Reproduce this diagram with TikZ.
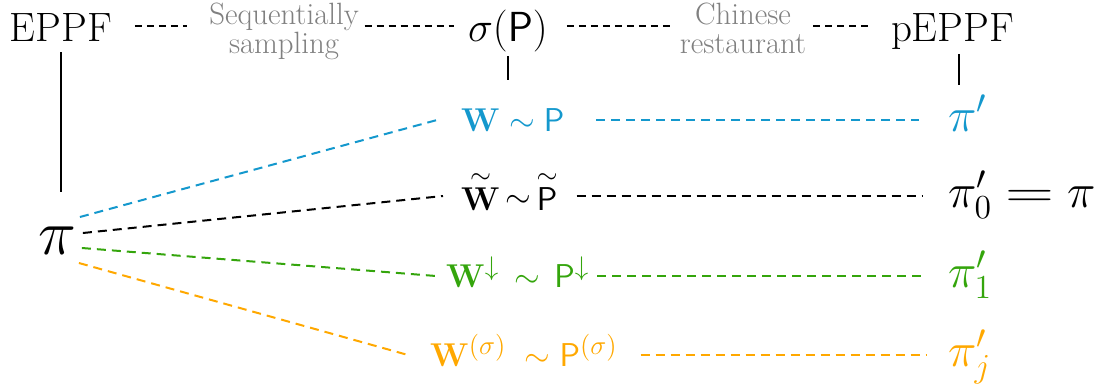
\RequirePackage{fix-cm}
\documentclass[tikz,border=0pt]{standalone}
\usepackage{graphicx}
\usetikzlibrary{calc}
\DeclareMathSizes{16.5}{16.5}{13.5}{11}
\definecolor{cblue}{RGB}{20,152,205}
\definecolor{cgreen}{RGB}{52,165,12}
\definecolor{corange}{RGB}{255,168,0}
\definecolor{cgray}{RGB}{128,128,128}
\begin{document}
\begin{tikzpicture}[x=0.5pt,y=-0.5pt,
  lbl/.style={inner sep=0pt, outer sep=0pt},
  big/.style={lbl, font=\fontsize{20.5}{22}\selectfont},
  note/.style={lbl, text=cgray, align=center, font=\fontsize{15.4}{14.5}\selectfont},
  lhs/.style={lbl, font=\fontsize{16.5}{18}\selectfont},
  rhs/.style={lbl, font=\fontsize{24}{28}\selectfont},
  topdash/.style={line width=0.9pt, dash pattern=on 3.5pt off 2.5pt},
  dsh/.style={line width=1pt, dash pattern=on 4.5pt off 3pt},
  solidln/.style={line width=1pt}
]
\useasboundingbox (0,0) rectangle (1096,386);
\coordinate (topy) at (0,26);
% top row
\node[big, anchor=base west] (eppf) at (10,41) {EPPF};
\node[note, anchor=north] (seq) at (284,3) {Sequentially\\sampling};
\node[lbl, font=\fontsize{21}{24}\selectfont, anchor=base west] (sig) at (468,41) {$\sigma(\mathsf{P})$};
\node[note, anchor=north] (cr) at (743,3) {Chinese\\restaurant};
\node[big, anchor=base west] (pe) at (891,41) {pEPPF};
% pi
\node[lbl, font=\fontsize{32}{36}\selectfont] (pi) at (57,241) {$\pi$};
% left formulas
\node[lhs, anchor=base west, text=cblue] (wp) at (461,131) {$\mathbf{W}\sim\mathsf{P}$};
\node[lhs, anchor=base west] (wt) at (461,207) {${\stackrel{\sim}{\mathbf{W}}}\,{\sim}\,{\stackrel{\sim}{\mathsf{P}}}$};
\node[lhs, anchor=base west, text=cgreen] (wd) at (446,287) {$\mathbf{W}^{\downarrow}\,\sim\,\mathsf{P}^{\downarrow}$};
\node[lhs, anchor=base west, text=corange] (ws) at (430,366) {$\mathbf{W}^{(\sigma)}\;\sim\mathsf{P}^{(\sigma)}$};
% right formulas
\node[rhs, anchor=base west, text=cblue] (pp) at (948,131) {$\pi'$};
\node[rhs, anchor=base west] (p0) at (948,207) {$\pi'_0\mathrel{\scalebox{1.4}[1]{$=$}}\pi$};
\node[rhs, anchor=base west, text=cgreen] (p1) at (948,287) {$\pi'_1$};
\node[rhs, anchor=base west, text=corange] (pj) at (948,366) {$\pi'_j$};
% top connectors
\draw[topdash, shorten <=11.5pt, shorten >=11pt] (eppf.east |- topy) -- (seq.west |- topy);
\draw[topdash, shorten <=3pt, shorten >=7pt] (seq.east |- topy) -- (sig.west |- topy);
\draw[topdash, shorten <=9.5pt, shorten >=4pt] (sig.east |- topy) -- (cr.west |- topy);
\draw[topdash, shorten <=3.5pt, shorten >=10.5pt] (cr.east |- topy) -- (pe.west |- topy);
% vertical lines
\draw[solidln, shorten <=5.5pt, shorten >=17.5pt] (eppf.south) -- (eppf.south |- pi.north);
\draw[solidln, shorten <=2.5pt, shorten >=14pt] (sig.south) -- (sig.south |- wp.north);
\draw[solidln, shorten <=2.4pt, shorten >=5pt] ([xshift=3.5pt]pe.south) -- ([xshift=3.5pt]pe.south |- pp.north);
% diagonal connectors
\coordinate (pb) at ($(pi.east)+(4,-24)$);
\coordinate (pk) at ($(pi.east)+(7,-8)$);
\coordinate (pg) at ($(pi.east)+(6,7)$);
\coordinate (po) at ($(pi.east)+(3,22)$);
\draw[dsh, cblue] (pb) -- ([xshift=-12pt,yshift=5.5pt]wp.base west);
\draw[dsh, black] (pk) -- ([xshift=-9pt,yshift=5.5pt]wt.base west);
\draw[dsh, cgreen] (pg) -- ([xshift=-5pt,yshift=5.5pt]wd.base west);
\draw[dsh, corange] (po) -- ([xshift=-11pt,yshift=5.5pt]ws.base west);
% horizontal connectors
\draw[dsh, cblue, shorten <=16pt, shorten >=14.5pt] ([yshift=5.5pt]wp.base east) -- ([yshift=5.5pt]wp.base east -| pp.west);
\draw[dsh, black, shorten <=9.5pt, shorten >=12.5pt] ([yshift=5.5pt]wt.base east) -- ([yshift=5.5pt]wt.base east -| p0.west);
\draw[dsh, cgreen, shorten <=4pt, shorten >=12.5pt] ([yshift=5.5pt]wd.base east) -- ([yshift=5.5pt]wd.base east -| p1.west);
\draw[dsh, corange, shorten <=11.5pt, shorten >=10.5pt] ([yshift=5.5pt]ws.base east) -- ([yshift=5.5pt]ws.base east -| pj.west);
\end{tikzpicture}
\end{document}
